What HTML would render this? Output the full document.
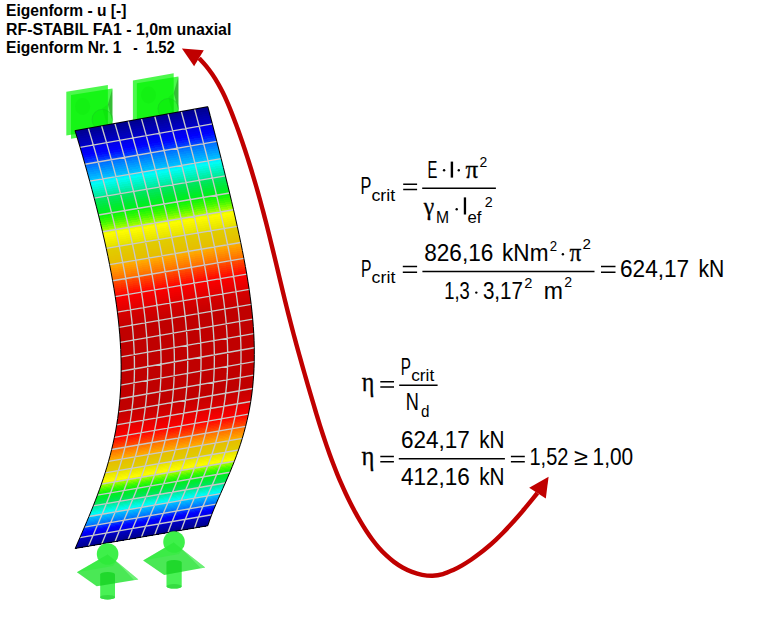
<!DOCTYPE html>
<html>
<head>
<meta charset="utf-8">
<title>Eigenform</title>
<style>
html,body{margin:0;padding:0;background:#fff;}
body{width:760px;height:630px;overflow:hidden;position:relative;font-family:"Liberation Sans",sans-serif;}
svg{position:absolute;left:0;top:0;}
.t{font-family:"Liberation Sans",sans-serif;font-weight:bold;font-size:16px;fill:#000;}
.f{font-family:"Liberation Sans",sans-serif;font-size:23.5px;fill:#000;}
.s{font-family:"Liberation Sans",sans-serif;font-size:16.3px;fill:#000;}
.g{font-family:"Liberation Serif",serif;font-size:25px;fill:#000;}
</style>
</head>
<body>
<svg width="760" height="630" viewBox="0 0 760 630">
<rect width="760" height="630" fill="#fff"/>
<!-- title -->

<!-- top supports (behind mesh) -->
<g>
 <!-- left -->
 <polygon points="71,95 112.4,88.4 112.4,132.2 71,138.8" fill="#00f500" fill-opacity="0.7"/>
 <polygon points="107.9,104.5 112.4,88.6 112.4,121" fill="#208020" fill-opacity="0.5"/>
 <polygon points="66.3,91.7 107.9,85 107.9,128.8 66.3,135.5" fill="#00f500" fill-opacity="0.7"/>
 <circle cx="102.3" cy="119.6" r="10.3" fill="#00e000" fill-opacity="0.3" stroke="#18c822" stroke-opacity="0.7" stroke-width="0.7"/>
 <path d="M102.3,108.2 L107.9,104.5 L107.9,128 Z" fill="#00c000" fill-opacity="0.18"/>
 <ellipse cx="82.6" cy="106.5" rx="7.5" ry="8.5" fill="#00d000" fill-opacity="0.13"/>
 <!-- right -->
 <polygon points="136.8,83.2 178.4,76.6 178.4,120.4 136.8,127" fill="#00f500" fill-opacity="0.7"/>
 <polygon points="173.7,93 178.4,76.8 178.4,110" fill="#208020" fill-opacity="0.5"/>
 <polygon points="132.9,80.5 173.7,73.2 173.7,117 132.9,124.3" fill="#00f500" fill-opacity="0.7"/>
 <circle cx="168.2" cy="108.8" r="10.3" fill="#00e000" fill-opacity="0.3" stroke="#18c822" stroke-opacity="0.7" stroke-width="0.7"/>
 <path d="M168.3,97.3 L173.7,93 L173.7,117 Z" fill="#00c000" fill-opacity="0.18"/>
 <ellipse cx="148.5" cy="95" rx="7.5" ry="8.5" fill="#00d000" fill-opacity="0.13"/>
</g>

<!-- mesh -->
<g shape-rendering="crispEdges">
<polygon points="75.01,130.61 207.84,106.63 208.59,109.46 75.86,133.36" fill="#000090"/>
<polygon points="75.65,132.69 208.41,108.77 209.16,111.61 76.50,135.44" fill="#000098"/>
<polygon points="76.29,134.77 208.98,110.92 209.73,113.77 77.14,137.53" fill="#0000a0"/>
<polygon points="76.93,136.86 209.54,113.08 210.29,115.93 77.77,139.62" fill="#0000a8"/>
<polygon points="77.57,138.95 210.11,115.24 210.86,118.09 78.40,141.72" fill="#0000b0"/>
<polygon points="78.20,141.05 210.68,117.40 211.42,120.26 79.03,143.81" fill="#0000b7"/>
<polygon points="78.83,143.14 211.24,119.56 211.98,122.43 79.66,145.92" fill="#0000bf"/>
<polygon points="79.46,145.24 211.80,121.73 212.54,124.60 80.28,148.02" fill="#0000c7"/>
<polygon points="80.08,147.35 212.37,123.90 213.11,126.77 80.90,150.13" fill="#0000e7"/>
<polygon points="80.71,149.45 212.93,126.07 213.67,128.94 81.52,152.23" fill="#0000ee"/>
<polygon points="81.32,151.56 213.49,128.25 214.23,131.12 82.14,154.34" fill="#0000f5"/>
<polygon points="81.94,153.67 214.05,130.42 214.78,133.29 82.75,156.46" fill="#0000fc"/>
<polygon points="82.55,155.78 214.61,132.60 215.34,135.47 83.36,158.57" fill="#000aff"/>
<polygon points="83.16,157.89 215.16,134.77 215.90,137.64 83.96,160.68" fill="#001dff"/>
<polygon points="83.77,160.01 215.72,136.95 216.45,139.82 84.57,162.80" fill="#0031ff"/>
<polygon points="84.37,162.12 216.28,139.12 217.01,142.00 85.17,164.92" fill="#0044ff"/>
<polygon points="84.98,164.24 216.83,141.30 217.56,144.17 85.76,167.04" fill="#006fff"/>
<polygon points="85.57,166.36 217.38,143.48 218.11,146.35 86.36,169.16" fill="#007bff"/>
<polygon points="86.17,168.48 217.93,145.65 218.66,148.52 86.95,171.28" fill="#0087ff"/>
<polygon points="86.76,170.60 218.48,147.83 219.21,150.70 87.54,173.40" fill="#0093ff"/>
<polygon points="87.35,172.72 219.03,150.00 219.75,152.87 88.12,175.52" fill="#009eff"/>
<polygon points="87.94,174.84 219.58,152.17 220.30,155.04 88.71,177.64" fill="#00aaff"/>
<polygon points="88.52,176.96 220.13,154.34 220.84,157.21 89.29,179.76" fill="#00b6ff"/>
<polygon points="89.10,179.08 220.67,156.51 221.39,159.37 89.86,181.88" fill="#00c2ff"/>
<polygon points="89.68,181.20 221.21,158.68 221.93,161.54 90.44,184.00" fill="#00f0ff"/>
<polygon points="90.25,183.32 221.75,160.85 222.46,163.70 91.01,186.12" fill="#00fdf4"/>
<polygon points="90.82,185.44 222.29,163.01 223.00,165.86 91.57,188.24" fill="#00fae5"/>
<polygon points="91.39,187.56 222.83,165.17 223.54,168.02 92.14,190.36" fill="#00f7d5"/>
<polygon points="91.96,189.68 223.36,167.33 224.07,170.17 92.70,192.48" fill="#00f4c6"/>
<polygon points="92.52,191.80 223.90,169.48 224.60,172.33 93.25,194.59" fill="#00f1b6"/>
<polygon points="93.08,193.92 224.43,171.64 225.13,174.48 93.81,196.71" fill="#00eea7"/>
<polygon points="93.63,196.03 224.96,173.79 225.65,176.62 94.36,198.82" fill="#00eb98"/>
<polygon points="94.18,198.15 225.48,175.94 226.18,178.76 94.90,200.94" fill="#00e663"/>
<polygon points="94.73,200.26 226.01,178.08 226.70,180.90 95.45,203.05" fill="#00e758"/>
<polygon points="95.27,202.37 226.53,180.22 227.22,183.04 95.98,205.16" fill="#00e74d"/>
<polygon points="95.81,204.49 227.05,182.36 227.73,185.17 96.52,207.27" fill="#00e842"/>
<polygon points="96.35,206.60 227.57,184.49 228.25,187.30 97.05,209.38" fill="#00e937"/>
<polygon points="96.88,208.70 228.08,186.62 228.76,189.43 97.58,211.48" fill="#00eb2d"/>
<polygon points="97.41,210.81 228.60,188.75 229.27,191.55 98.10,213.59" fill="#00ee24"/>
<polygon points="97.94,212.91 229.11,190.87 229.77,193.67 98.62,215.69" fill="#00f01a"/>
<polygon points="98.46,215.02 229.61,192.99 230.28,195.78 99.14,217.79" fill="#0cf50a"/>
<polygon points="98.97,217.12 230.12,195.10 230.78,197.89 99.65,219.89" fill="#1cf707"/>
<polygon points="99.49,219.22 230.62,197.22 231.28,200.00 100.16,221.98" fill="#2df804"/>
<polygon points="100.00,221.31 231.12,199.32 231.77,202.10 100.66,224.07" fill="#3ef901"/>
<polygon points="100.50,223.41 231.61,201.42 232.26,204.19 101.16,226.17" fill="#54fb00"/>
<polygon points="101.00,225.50 232.10,203.52 232.75,206.29 101.65,228.25" fill="#70fc00"/>
<polygon points="101.50,227.59 232.59,205.62 233.23,208.37 102.14,230.34" fill="#8bfd00"/>
<polygon points="101.99,229.67 233.08,207.71 233.72,210.46 102.63,232.42" fill="#a7ff00"/>
<polygon points="102.47,231.75 233.56,209.79 234.19,212.54 103.11,234.50" fill="#eaff00"/>
<polygon points="102.96,233.84 234.04,211.87 234.67,214.61 103.59,236.58" fill="#fcfc00"/>
<polygon points="103.44,235.91 234.52,213.95 235.14,216.68 104.06,238.65" fill="#f9f800"/>
<polygon points="103.91,237.99 234.99,216.02 235.60,218.75 104.53,240.72" fill="#f5f300"/>
<polygon points="104.38,240.06 235.46,218.09 236.07,220.81 104.99,242.79" fill="#f1ef00"/>
<polygon points="104.84,242.13 235.92,220.15 236.53,222.87 105.44,244.86" fill="#eeea00"/>
<polygon points="105.30,244.20 236.38,222.21 236.98,224.92 105.90,246.92" fill="#eae600"/>
<polygon points="105.75,246.26 236.84,224.26 237.43,226.97 106.34,248.98" fill="#e6e100"/>
<polygon points="106.20,248.32 237.29,226.31 237.88,229.01 106.78,251.03" fill="#e1cd00"/>
<polygon points="106.64,250.37 237.74,228.36 238.32,231.05 107.22,253.08" fill="#e2cb00"/>
<polygon points="107.08,252.43 238.18,230.40 238.76,233.08 107.65,255.13" fill="#e2c900"/>
<polygon points="107.51,254.48 238.62,232.43 239.20,235.11 108.07,257.17" fill="#e3c700"/>
<polygon points="107.94,256.52 239.06,234.46 239.63,237.13 108.49,259.22" fill="#e4c400"/>
<polygon points="108.36,258.56 239.49,236.49 240.05,239.15 108.91,261.25" fill="#e5c200"/>
<polygon points="108.78,260.60 239.92,238.51 240.48,241.17 109.32,263.29" fill="#e5c000"/>
<polygon points="109.19,262.64 240.34,240.52 240.89,243.18 109.72,265.32" fill="#e6be00"/>
<polygon points="109.59,264.67 240.76,242.53 241.30,245.18 110.12,267.34" fill="#f9af00"/>
<polygon points="109.99,266.69 241.17,244.54 241.71,247.18 110.51,269.36" fill="#ffa400"/>
<polygon points="110.38,268.72 241.58,246.54 242.11,249.18 110.89,271.38" fill="#ff9b00"/>
<polygon points="110.77,270.74 241.98,248.54 242.51,251.17 111.27,273.40" fill="#ff9200"/>
<polygon points="111.15,272.75 242.38,250.53 242.90,253.15 111.64,275.41" fill="#ff8900"/>
<polygon points="111.52,274.77 242.78,252.52 243.29,255.13 112.01,277.41" fill="#ff8100"/>
<polygon points="111.89,276.77 243.16,254.50 243.67,257.11 112.37,279.42" fill="#ff7800"/>
<polygon points="112.26,278.78 243.55,256.48 244.04,259.08 112.72,281.41" fill="#ff6f00"/>
<polygon points="112.61,280.78 243.92,258.45 244.41,261.05 113.07,283.41" fill="#ff4f00"/>
<polygon points="112.96,282.77 244.30,260.42 244.78,263.01 113.41,285.40" fill="#ff4500"/>
<polygon points="113.30,284.76 244.66,262.38 245.14,264.96 113.75,287.38" fill="#ff3a00"/>
<polygon points="113.64,286.75 245.03,264.34 245.49,266.92 114.07,289.36" fill="#ff3000"/>
<polygon points="113.97,288.73 245.38,266.29 245.84,268.86 114.40,291.34" fill="#ff2500"/>
<polygon points="114.29,290.71 245.73,268.24 246.18,270.81 114.71,293.31" fill="#ff1b00"/>
<polygon points="114.61,292.68 246.07,270.19 246.52,272.75 115.02,295.28" fill="#ff1000"/>
<polygon points="114.92,294.65 246.41,272.13 246.85,274.68 115.32,297.25" fill="#ff0600"/>
<polygon points="115.22,296.62 246.75,274.06 247.17,276.61 115.61,299.20" fill="#fa0000"/>
<polygon points="115.52,298.58 247.07,275.99 247.49,278.53 115.90,301.16" fill="#f60000"/>
<polygon points="115.81,300.53 247.39,277.92 247.80,280.45 116.18,303.11" fill="#f30000"/>
<polygon points="116.09,302.49 247.71,279.84 248.11,282.37 116.45,305.05" fill="#ef0000"/>
<polygon points="116.36,304.43 248.01,281.75 248.41,284.28 116.72,306.99" fill="#ec0000"/>
<polygon points="116.63,306.37 248.31,283.67 248.70,286.18 116.97,308.93" fill="#e80000"/>
<polygon points="116.89,308.31 248.61,285.57 248.99,288.08 117.22,310.86" fill="#e50000"/>
<polygon points="117.14,310.24 248.90,287.48 249.27,289.98 117.47,312.79" fill="#e10000"/>
<polygon points="117.39,312.17 249.18,289.37 249.54,291.87 117.70,314.71" fill="#d70000"/>
<polygon points="117.63,314.10 249.45,291.27 249.81,293.76 117.93,316.63" fill="#d40000"/>
<polygon points="117.86,316.01 249.72,293.16 250.07,295.64 118.15,318.54" fill="#d20000"/>
<polygon points="118.08,317.93 249.98,295.04 250.32,297.52 118.37,320.45" fill="#d00000"/>
<polygon points="118.30,319.84 250.24,296.92 250.56,299.39 118.57,322.35" fill="#cd0000"/>
<polygon points="118.51,321.74 250.49,298.80 250.80,301.26 118.77,324.25" fill="#cb0000"/>
<polygon points="118.71,323.64 250.73,300.67 251.03,303.13 118.96,326.14" fill="#c90000"/>
<polygon points="118.90,325.53 250.96,302.53 251.26,304.99 119.14,328.03" fill="#c60000"/>
<polygon points="119.09,327.42 251.19,304.39 251.47,306.84 119.32,329.91" fill="#c00000"/>
<polygon points="119.26,329.31 251.41,306.25 251.68,308.70 119.49,331.79" fill="#c00000"/>
<polygon points="119.43,331.19 251.62,308.10 251.89,310.54 119.65,333.66" fill="#c00000"/>
<polygon points="119.60,333.06 251.82,309.95 252.08,312.39 119.80,335.53" fill="#c00000"/>
<polygon points="119.75,334.93 252.02,311.80 252.27,314.22 119.94,337.39" fill="#c00000"/>
<polygon points="119.90,336.80 252.21,313.64 252.45,316.06 120.08,339.25" fill="#c00000"/>
<polygon points="120.03,338.65 252.39,315.47 252.62,317.89 120.20,341.10" fill="#c00000"/>
<polygon points="120.16,340.51 252.56,317.30 252.78,319.71 120.32,342.95" fill="#c00000"/>
<polygon points="120.29,342.36 252.73,319.13 252.94,321.53 120.44,344.79" fill="#c00000"/>
<polygon points="120.40,344.20 252.89,320.95 253.09,323.35 120.54,346.63" fill="#c00000"/>
<polygon points="120.51,346.04 253.04,322.77 253.23,325.16 120.64,348.46" fill="#c00000"/>
<polygon points="120.61,347.87 253.18,324.58 253.36,326.97 120.72,350.29" fill="#c00000"/>
<polygon points="120.70,349.70 253.32,326.39 253.48,328.77 120.80,352.11" fill="#c00000"/>
<polygon points="120.78,351.53 253.45,328.19 253.60,330.57 120.87,353.92" fill="#c00000"/>
<polygon points="120.85,353.34 253.56,329.99 253.71,332.36 120.94,355.74" fill="#c00000"/>
<polygon points="120.92,355.16 253.67,331.79 253.81,334.15 120.99,357.54" fill="#c00000"/>
<polygon points="120.98,356.96 253.78,333.58 253.90,335.94 121.04,359.34" fill="#c00000"/>
<polygon points="121.02,358.77 253.87,335.37 253.98,337.72 121.08,361.14" fill="#c00000"/>
<polygon points="121.07,360.56 253.96,337.15 254.06,339.49 121.11,362.93" fill="#c00000"/>
<polygon points="121.10,362.35 254.04,338.92 254.13,341.26 121.13,364.71" fill="#c00000"/>
<polygon points="121.12,364.14 254.11,340.70 254.18,343.03 121.14,366.49" fill="#c00000"/>
<polygon points="121.14,365.92 254.17,342.47 254.23,344.79 121.15,368.26" fill="#c00000"/>
<polygon points="121.15,367.70 254.22,344.23 254.27,346.55 121.15,370.03" fill="#c00000"/>
<polygon points="121.15,369.47 254.26,345.99 254.31,348.31 121.14,371.79" fill="#c00000"/>
<polygon points="121.14,371.23 254.30,347.75 254.33,350.06 121.12,373.55" fill="#c00000"/>
<polygon points="121.13,372.99 254.32,349.50 254.35,351.80 121.09,375.30" fill="#c00000"/>
<polygon points="121.10,374.74 254.34,351.24 254.35,353.54 121.06,377.05" fill="#c00000"/>
<polygon points="121.07,376.49 254.35,352.99 254.35,355.28 121.01,378.79" fill="#c00000"/>
<polygon points="121.03,378.23 254.35,354.72 254.34,357.01 120.96,380.53" fill="#c00000"/>
<polygon points="120.98,379.97 254.35,356.46 254.32,358.74 120.90,382.26" fill="#c00000"/>
<polygon points="120.92,381.70 254.33,358.18 254.29,360.46 120.84,383.98" fill="#c00000"/>
<polygon points="120.86,383.43 254.30,359.91 254.26,362.18 120.76,385.70" fill="#c00000"/>
<polygon points="120.79,385.15 254.27,361.63 254.21,363.89 120.68,387.42" fill="#c00000"/>
<polygon points="120.70,386.87 254.23,363.34 254.16,365.60 120.58,389.12" fill="#c00000"/>
<polygon points="120.62,388.58 254.17,365.05 254.09,367.30 120.49,390.83" fill="#c00000"/>
<polygon points="120.52,390.28 254.11,366.76 254.02,369.00 120.38,392.52" fill="#c00000"/>
<polygon points="120.41,391.98 254.04,368.46 253.94,370.69 120.26,394.22" fill="#c00000"/>
<polygon points="120.30,393.67 253.96,370.15 253.85,372.38 120.14,395.90" fill="#c00000"/>
<polygon points="120.18,395.36 253.88,371.84 253.75,374.07 120.01,397.58" fill="#c00000"/>
<polygon points="120.05,397.05 253.78,373.53 253.64,375.75 119.87,399.26" fill="#c00000"/>
<polygon points="119.91,398.72 253.67,375.21 253.52,377.42 119.72,400.93" fill="#c00000"/>
<polygon points="119.77,400.39 253.56,376.89 253.40,379.10 119.56,402.59" fill="#c00000"/>
<polygon points="119.61,402.06 253.44,378.56 253.26,380.76 119.40,404.25" fill="#c00000"/>
<polygon points="119.45,403.72 253.30,380.23 253.12,382.42 119.23,405.90" fill="#c00000"/>
<polygon points="119.29,405.37 253.16,381.89 252.96,384.08 119.05,407.55" fill="#c00000"/>
<polygon points="119.11,407.02 253.01,383.55 252.80,385.73 118.87,409.19" fill="#c00000"/>
<polygon points="118.93,408.67 252.85,385.20 252.63,387.38 118.67,410.83" fill="#c00000"/>
<polygon points="118.74,410.31 252.68,386.85 252.45,389.02 118.47,412.46" fill="#c00000"/>
<polygon points="118.54,411.94 252.51,388.49 252.26,390.65 118.26,414.08" fill="#c60000"/>
<polygon points="118.33,413.57 252.32,390.13 252.06,392.29 118.05,415.70" fill="#c90000"/>
<polygon points="118.12,415.19 252.13,391.77 251.85,393.91 117.82,417.32" fill="#cb0000"/>
<polygon points="117.90,416.80 251.92,393.39 251.64,395.53 117.59,418.93" fill="#cd0000"/>
<polygon points="117.67,418.41 251.71,395.02 251.41,397.15 117.36,420.53" fill="#d00000"/>
<polygon points="117.43,420.02 251.49,396.63 251.18,398.76 117.11,422.13" fill="#d20000"/>
<polygon points="117.19,421.62 251.26,398.25 250.94,400.37 116.86,423.72" fill="#d40000"/>
<polygon points="116.94,423.21 251.02,399.86 250.69,401.97 116.60,425.31" fill="#d70000"/>
<polygon points="116.68,424.80 250.77,401.46 250.43,403.57 116.33,426.89" fill="#e10000"/>
<polygon points="116.42,426.38 250.51,403.06 250.16,405.16 116.06,428.46" fill="#e50000"/>
<polygon points="116.15,427.96 250.25,404.65 249.88,406.74 115.78,430.03" fill="#e80000"/>
<polygon points="115.87,429.53 249.97,406.24 249.60,408.32 115.49,431.60" fill="#ec0000"/>
<polygon points="115.58,431.10 249.69,407.82 249.30,409.90 115.20,433.16" fill="#ef0000"/>
<polygon points="115.29,432.66 249.40,409.40 249.00,411.47 114.89,434.71" fill="#f30000"/>
<polygon points="114.99,434.22 249.10,410.97 248.69,413.03 114.59,436.26" fill="#f60000"/>
<polygon points="114.69,435.77 248.79,412.53 248.37,414.59 114.27,437.80" fill="#fa0000"/>
<polygon points="114.37,437.31 248.47,414.09 248.04,416.15 113.95,439.34" fill="#ff0600"/>
<polygon points="114.06,438.85 248.14,415.65 247.70,417.70 113.63,440.87" fill="#ff1000"/>
<polygon points="113.73,440.38 247.81,417.20 247.36,419.24 113.29,442.40" fill="#ff1b00"/>
<polygon points="113.40,441.91 247.47,418.75 247.00,420.78 112.95,443.92" fill="#ff2500"/>
<polygon points="113.06,443.44 247.12,420.29 246.64,422.31 112.61,445.44" fill="#ff3000"/>
<polygon points="112.72,444.95 246.76,421.82 246.28,423.84 112.25,446.95" fill="#ff3a00"/>
<polygon points="112.37,446.47 246.39,423.35 245.90,425.36 111.90,448.46" fill="#ff4500"/>
<polygon points="112.01,447.97 246.02,424.87 245.51,426.88 111.53,449.96" fill="#ff4f00"/>
<polygon points="111.65,449.48 245.64,426.39 245.12,428.39 111.16,451.45" fill="#ff6f00"/>
<polygon points="111.28,450.97 245.25,427.91 244.72,429.89 110.79,452.94" fill="#ff7800"/>
<polygon points="110.91,452.47 244.85,429.41 244.31,431.39 110.41,454.43" fill="#ff8100"/>
<polygon points="110.53,453.95 244.44,430.92 243.90,432.89 110.02,455.91" fill="#ff8900"/>
<polygon points="110.14,455.44 244.03,432.41 243.48,434.38 109.63,457.38" fill="#ff9200"/>
<polygon points="109.75,456.91 243.61,433.90 243.05,435.86 109.23,458.85" fill="#ff9b00"/>
<polygon points="109.36,458.38 243.18,435.39 242.61,437.34 108.82,460.32" fill="#ffa400"/>
<polygon points="108.95,459.85 242.75,436.87 242.16,438.82 108.42,461.78" fill="#f9af00"/>
<polygon points="108.55,461.31 242.31,438.35 241.71,440.29 108.00,463.23" fill="#e6be00"/>
<polygon points="108.13,462.77 241.86,439.82 241.26,441.75 107.58,464.69" fill="#e5c000"/>
<polygon points="107.72,464.22 241.40,441.28 240.79,443.21 107.16,466.13" fill="#e5c200"/>
<polygon points="107.29,465.67 240.94,442.74 240.32,444.66 106.73,467.57" fill="#e4c400"/>
<polygon points="106.87,467.11 240.47,444.19 239.84,446.11 106.30,469.01" fill="#e3c700"/>
<polygon points="106.43,468.55 240.00,445.64 239.36,447.55 105.86,470.44" fill="#e2c900"/>
<polygon points="106.00,469.98 239.51,447.09 238.87,448.98 105.41,471.87" fill="#e2cb00"/>
<polygon points="105.56,471.41 239.03,448.53 238.37,450.42 104.97,473.29" fill="#e1cd00"/>
<polygon points="105.11,472.84 238.53,449.96 237.87,451.84 104.51,474.71" fill="#e6e100"/>
<polygon points="104.66,474.26 238.03,451.39 237.36,453.27 104.06,476.12" fill="#eae600"/>
<polygon points="104.20,475.67 237.53,452.81 236.85,454.68 103.60,477.53" fill="#eeea00"/>
<polygon points="103.74,477.08 237.01,454.23 236.33,456.09 103.13,478.94" fill="#f1ef00"/>
<polygon points="103.28,478.49 236.50,455.64 235.81,457.50 102.66,480.34" fill="#f5f300"/>
<polygon points="102.81,479.89 235.98,457.05 235.28,458.90 102.19,481.74" fill="#f9f800"/>
<polygon points="102.34,481.29 235.45,458.45 234.74,460.30 101.71,483.13" fill="#fcfc00"/>
<polygon points="101.86,482.68 234.92,459.85 234.21,461.69 101.23,484.52" fill="#eaff00"/>
<polygon points="101.38,484.08 234.38,461.25 233.66,463.08 100.74,485.90" fill="#a7ff00"/>
<polygon points="100.90,485.46 233.84,462.64 233.12,464.46 100.25,487.29" fill="#8bfd00"/>
<polygon points="100.41,486.84 233.29,464.02 232.56,465.84 99.76,488.66" fill="#70fc00"/>
<polygon points="99.92,488.22 232.74,465.40 232.01,467.22 99.27,490.04" fill="#54fb00"/>
<polygon points="99.42,489.60 232.19,466.78 231.45,468.59 98.77,491.41" fill="#3ef901"/>
<polygon points="98.93,490.97 231.63,468.15 230.89,469.95 98.26,492.78" fill="#2df804"/>
<polygon points="98.42,492.34 231.07,469.52 230.32,471.32 97.76,494.14" fill="#1cf707"/>
<polygon points="97.92,493.70 230.50,470.88 229.75,472.68 97.25,495.50" fill="#0cf50a"/>
<polygon points="97.41,495.06 229.94,472.24 229.18,474.03 96.74,496.86" fill="#00f01a"/>
<polygon points="96.90,496.42 229.36,473.60 228.61,475.38 96.22,498.21" fill="#00ee24"/>
<polygon points="96.39,497.78 228.79,474.95 228.03,476.73 95.70,499.56" fill="#00eb2d"/>
<polygon points="95.87,499.13 228.22,476.30 227.45,478.07 95.18,500.91" fill="#00e937"/>
<polygon points="95.35,500.48 227.64,477.64 226.87,479.41 94.66,502.26" fill="#00e842"/>
<polygon points="94.83,501.83 227.06,478.99 226.29,480.75 94.13,503.60" fill="#00e74d"/>
<polygon points="94.30,503.17 226.48,480.32 225.70,482.09 93.60,504.94" fill="#00e758"/>
<polygon points="93.77,504.51 225.89,481.66 225.12,483.42 93.07,506.28" fill="#00e663"/>
<polygon points="93.24,505.85 225.31,482.99 224.53,484.75 92.53,507.62" fill="#00eb98"/>
<polygon points="92.71,507.19 224.72,484.33 223.95,486.08 92.00,508.95" fill="#00eea7"/>
<polygon points="92.17,508.53 224.14,485.65 223.36,487.40 91.46,510.29" fill="#00f1b6"/>
<polygon points="91.63,509.86 223.55,486.98 222.77,488.73 90.92,511.62" fill="#00f4c6"/>
<polygon points="91.09,511.19 222.96,488.30 222.19,490.05 90.37,512.95" fill="#00f7d5"/>
<polygon points="90.55,512.52 222.37,489.63 221.60,491.37 89.83,514.27" fill="#00fae5"/>
<polygon points="90.00,513.85 221.79,490.95 221.02,492.69 89.28,515.60" fill="#00fdf4"/>
<polygon points="89.45,515.18 221.20,492.27 220.43,494.01 88.73,516.92" fill="#00f0ff"/>
<polygon points="88.91,516.50 220.62,493.59 219.85,495.33 88.18,518.25" fill="#00c2ff"/>
<polygon points="88.35,517.83 220.04,494.91 219.27,496.64 87.62,519.57" fill="#00b6ff"/>
<polygon points="87.80,519.15 219.45,496.22 218.69,497.96 87.07,520.90" fill="#00aaff"/>
<polygon points="87.24,520.47 218.87,497.54 218.11,499.28 86.51,522.22" fill="#009eff"/>
<polygon points="86.69,521.79 218.30,498.86 217.54,500.60 85.95,523.54" fill="#0093ff"/>
<polygon points="86.13,523.12 217.72,500.17 216.97,501.91 85.39,524.86" fill="#0087ff"/>
<polygon points="85.57,524.44 217.15,501.49 216.40,503.23 84.82,526.18" fill="#007bff"/>
<polygon points="85.00,525.76 216.58,502.81 215.84,504.55 84.26,527.51" fill="#006fff"/>
<polygon points="84.44,527.08 216.02,504.13 215.28,505.88 83.69,528.83" fill="#0044ff"/>
<polygon points="83.87,528.41 215.46,505.45 214.72,507.20 83.12,530.15" fill="#0031ff"/>
<polygon points="83.31,529.73 214.90,506.78 214.18,508.53 82.56,531.48" fill="#001dff"/>
<polygon points="82.74,531.05 214.35,508.10 213.63,509.86 81.98,532.80" fill="#000aff"/>
<polygon points="82.17,532.38 213.80,509.43 213.09,511.19 81.41,534.13" fill="#0000fc"/>
<polygon points="81.59,533.70 213.26,510.76 212.56,512.53 80.84,535.46" fill="#0000f5"/>
<polygon points="81.02,535.03 212.73,512.10 212.03,513.87 80.26,536.79" fill="#0000ee"/>
<polygon points="80.44,536.36 212.20,513.44 211.51,515.21 79.68,538.12" fill="#0000e7"/>
<polygon points="79.87,537.69 211.68,514.78 211.00,516.56 79.10,539.45" fill="#0000c7"/>
<polygon points="79.29,539.03 211.16,516.13 210.50,517.92 78.52,540.79" fill="#0000bf"/>
<polygon points="78.71,540.36 210.66,517.48 210.00,519.28 77.94,542.13" fill="#0000b7"/>
<polygon points="78.13,541.70 210.16,518.84 209.51,520.64 77.36,543.47" fill="#0000b0"/>
<polygon points="77.54,543.04 209.67,520.20 209.03,522.02 76.77,544.82" fill="#0000a8"/>
<polygon points="76.96,544.39 209.18,521.58 208.56,523.40 76.19,546.17" fill="#0000a0"/>
<polygon points="76.37,545.73 208.71,522.95 208.10,524.78 75.60,547.52" fill="#000098"/>
<polygon points="75.79,547.09 208.25,524.34 207.65,526.18 75.01,548.88" fill="#000090"/>
</g>
<path d="M80.08,147.35 L212.37,123.90 M84.98,164.24 L216.83,141.30 M89.68,181.20 L221.21,158.68 M94.18,198.15 L225.48,175.94 M98.46,215.02 L229.61,192.99 M102.47,231.75 L233.56,209.79 M106.20,248.32 L237.29,226.31 M109.59,264.67 L240.76,242.53 M112.61,280.78 L243.92,258.45 M115.22,296.62 L246.75,274.06 M117.39,312.17 L249.18,289.37 M119.09,327.42 L251.19,304.39 M120.29,342.36 L252.73,319.13 M120.98,356.96 L253.78,333.58 M121.14,371.23 L254.30,347.75 M120.79,385.15 L254.27,361.63 M119.91,398.72 L253.67,375.21 M118.54,411.94 L252.51,388.49 M116.68,424.80 L250.77,401.46 M114.37,437.31 L248.47,414.09 M111.65,449.48 L245.64,426.39 M108.55,461.31 L242.31,438.35 M105.11,472.84 L238.53,449.96 M101.38,484.08 L234.38,461.25 M97.41,495.06 L229.94,472.24 M93.24,505.85 L225.31,482.99 M88.91,516.50 L220.62,493.59 M84.44,527.08 L216.02,504.13 M79.87,537.69 L211.68,514.78 M88.29,128.21 L90.82,136.58 L93.31,145.00 L95.76,153.46 L98.16,161.95 L100.52,170.45 L102.83,178.95 L105.10,187.44 L107.31,195.93 L109.47,204.38 L111.57,212.81 L113.61,221.21 L115.58,229.56 L117.48,237.86 L119.31,246.12 L121.05,254.31 L122.71,262.45 L124.27,270.53 L125.74,278.54 L127.11,286.49 L128.37,294.36 L129.53,302.16 L130.57,309.89 L131.49,317.55 L132.30,325.12 L132.98,332.62 L133.53,340.04 L133.96,347.37 L134.26,354.62 L134.42,361.80 L134.46,368.88 L134.36,375.88 L134.13,382.80 L133.78,389.63 L133.29,396.37 L132.67,403.03 L131.93,409.59 L131.07,416.07 L130.09,422.47 L128.99,428.77 L127.78,434.99 L126.47,441.12 L125.05,447.17 L123.53,453.13 L121.92,459.02 L120.23,464.82 L118.45,470.55 L116.60,476.20 L114.68,481.79 L112.70,487.32 L110.66,492.78 L108.58,498.20 L106.45,503.57 L104.28,508.90 L102.08,514.21 L99.85,519.50 L97.60,524.79 L95.33,530.08 L93.05,535.40 L90.76,540.76 L88.46,546.17 M101.57,125.81 L104.08,134.21 L106.54,142.66 L108.96,151.14 L111.35,159.65 L113.69,168.17 L115.99,176.70 L118.24,185.21 L120.44,193.70 L122.59,202.17 L124.69,210.61 L126.72,219.01 L128.69,227.36 L130.59,235.67 L132.42,243.92 L134.16,252.11 L135.82,260.24 L137.40,268.31 L138.87,276.31 L140.25,284.24 L141.53,292.11 L142.69,299.90 L143.75,307.61 L144.69,315.25 L145.51,322.82 L146.20,330.30 L146.78,337.71 L147.22,345.04 L147.54,352.29 L147.72,359.45 L147.77,366.53 L147.69,373.53 L147.48,380.45 L147.14,387.28 L146.66,394.02 L146.06,400.68 L145.33,407.25 L144.48,413.73 L143.50,420.13 L142.40,426.44 L141.19,432.67 L139.87,438.81 L138.45,444.86 L136.92,450.83 L135.30,456.72 L133.59,462.53 L131.79,468.26 L129.92,473.92 L127.98,479.51 L125.98,485.03 L123.92,490.50 L121.81,495.91 L119.65,501.28 L117.46,506.61 L115.25,511.92 L113.01,517.21 L110.76,522.49 L108.49,527.79 L106.23,533.11 L103.97,538.47 L101.72,543.90 M114.86,123.42 L117.33,131.84 L119.77,140.31 L122.17,148.82 L124.53,157.36 L126.86,165.90 L129.14,174.44 L131.38,182.97 L133.57,191.48 L135.71,199.96 L137.80,208.41 L139.83,216.81 L141.80,225.17 L143.70,233.47 L145.53,241.72 L147.28,249.90 L148.94,258.03 L150.52,266.09 L152.01,274.08 L153.39,282.00 L154.68,289.85 L155.86,297.63 L156.93,305.33 L157.88,312.96 L158.72,320.51 L159.43,327.99 L160.02,335.39 L160.48,342.71 L160.82,349.95 L161.02,357.11 L161.09,364.19 L161.03,371.18 L160.83,378.09 L160.50,384.92 L160.04,391.67 L159.45,398.33 L158.73,404.90 L157.88,411.39 L156.91,417.80 L155.81,424.11 L154.60,430.35 L153.28,436.49 L151.85,442.55 L150.31,448.53 L148.67,454.42 L146.95,460.24 L145.14,465.97 L143.24,471.64 L141.28,477.23 L139.25,482.75 L137.17,488.22 L135.03,493.63 L132.86,499.00 L130.65,504.32 L128.42,509.63 L126.17,514.91 L123.91,520.20 L121.66,525.49 L119.41,530.82 L117.18,536.19 L114.98,541.63 M128.14,121.02 L130.59,129.47 L133.00,137.97 L135.37,146.51 L137.72,155.06 L140.02,163.63 L142.29,172.19 L144.52,180.74 L146.70,189.26 L148.84,197.75 L150.92,206.21 L152.94,214.61 L154.91,222.97 L156.81,231.27 L158.64,239.52 L160.39,247.70 L162.06,255.81 L163.64,263.86 L165.14,271.84 L166.53,279.76 L167.83,287.59 L169.02,295.36 L170.11,303.05 L171.08,310.67 L171.93,318.21 L172.66,325.68 L173.26,333.07 L173.74,340.38 L174.10,347.61 L174.32,354.76 L174.40,361.84 L174.36,368.83 L174.18,375.74 L173.86,382.57 L173.42,389.32 L172.84,395.98 L172.13,402.56 L171.28,409.05 L170.32,415.46 L169.22,421.79 L168.01,428.02 L166.68,434.18 L165.24,440.24 L163.70,446.23 L162.05,452.13 L160.31,457.95 L158.48,463.69 L156.57,469.35 L154.58,474.94 L152.53,480.47 L150.42,485.94 L148.26,491.35 L146.07,496.71 L143.84,502.04 L141.59,507.34 L139.33,512.62 L137.07,517.90 L134.82,523.20 L132.59,528.53 L130.39,533.91 L128.24,539.36 M141.42,118.62 L143.84,127.10 L146.22,135.62 L148.58,144.19 L150.90,152.77 L153.19,161.36 L155.45,169.94 L157.66,178.50 L159.83,187.04 L161.96,195.54 L164.03,204.00 L166.06,212.42 L168.02,220.77 L169.92,229.07 L171.74,237.31 L173.50,245.49 L175.17,253.60 L176.77,261.64 L178.27,269.61 L179.68,277.51 L180.98,285.34 L182.19,293.09 L183.28,300.77 L184.27,308.38 L185.14,315.91 L185.88,323.36 L186.51,330.74 L187.01,338.05 L187.38,345.27 L187.61,352.42 L187.72,359.49 L187.69,366.48 L187.53,373.39 L187.23,380.22 L186.79,386.97 L186.22,393.63 L185.52,400.22 L184.69,406.71 L183.73,413.13 L182.64,419.46 L181.42,425.70 L180.09,431.86 L178.64,437.93 L177.09,443.92 L175.43,449.83 L173.67,455.65 L171.82,461.40 L169.89,467.07 L167.88,472.66 L165.81,478.19 L163.67,483.65 L161.49,489.06 L159.27,494.42 L157.03,499.75 L154.76,505.04 L152.49,510.33 L150.23,515.61 L147.99,520.90 L145.77,526.24 L143.61,531.62 L141.50,537.09 M154.71,116.22 L157.09,124.72 L159.45,133.28 L161.78,141.87 L164.09,150.48 L166.36,159.09 L168.60,167.69 L170.80,176.27 L172.96,184.82 L175.08,193.33 L177.15,201.80 L179.17,210.22 L181.13,218.58 L183.02,226.88 L184.85,235.11 L186.61,243.28 L188.29,251.39 L189.89,259.42 L191.40,267.38 L192.82,275.27 L194.14,283.08 L195.35,290.83 L196.46,298.49 L197.46,306.09 L198.35,313.61 L199.11,321.05 L199.75,328.42 L200.27,335.71 L200.66,342.93 L200.91,350.07 L201.04,357.14 L201.02,364.13 L200.88,371.04 L200.59,377.87 L200.17,384.62 L199.61,391.28 L198.92,397.87 L198.09,404.38 L197.13,410.80 L196.05,417.13 L194.83,423.38 L193.50,429.55 L192.04,435.63 L190.48,441.62 L188.80,447.53 L187.03,453.36 L185.16,459.11 L183.21,464.78 L181.18,470.38 L179.08,475.91 L176.93,481.37 L174.72,486.78 L172.48,492.14 L170.21,497.46 L167.93,502.75 L165.65,508.03 L163.39,513.31 L161.15,518.61 L158.95,523.95 L156.82,529.34 L154.76,534.82 M167.99,113.82 L170.35,122.35 L172.68,130.93 L174.99,139.55 L177.27,148.18 L179.53,156.82 L181.75,165.44 L183.94,174.03 L186.09,182.60 L188.20,191.12 L190.27,199.60 L192.28,208.02 L194.24,216.38 L196.13,224.68 L197.96,232.91 L199.72,241.08 L201.41,249.17 L203.01,257.20 L204.53,265.15 L205.96,273.02 L207.29,280.83 L208.52,288.56 L209.64,296.21 L210.66,303.80 L211.56,311.30 L212.34,318.74 L213.00,326.10 L213.53,333.38 L213.94,340.59 L214.21,347.73 L214.35,354.79 L214.36,361.78 L214.22,368.68 L213.95,375.51 L213.55,382.27 L213.00,388.94 L212.32,395.53 L211.50,402.04 L210.54,408.46 L209.46,414.80 L208.24,421.06 L206.90,427.23 L205.44,433.32 L203.86,439.32 L202.18,445.24 L200.39,451.07 L198.50,456.82 L196.53,462.50 L194.48,468.10 L192.36,473.62 L190.18,479.09 L187.95,484.49 L185.69,489.85 L183.40,495.17 L181.10,500.46 L178.81,505.74 L176.55,511.02 L174.31,516.32 L172.14,521.65 L170.03,527.06 L168.02,532.55 M181.28,111.42 L183.60,119.98 L185.91,128.59 L188.20,137.23 L190.46,145.89 L192.70,154.54 L194.91,163.18 L197.08,171.80 L199.22,180.38 L201.32,188.91 L203.38,197.40 L205.39,205.82 L207.34,214.18 L209.24,222.48 L211.07,230.71 L212.84,238.87 L214.53,246.96 L216.14,254.97 L217.66,262.91 L219.10,270.78 L220.44,278.57 L221.68,286.29 L222.82,293.93 L223.85,301.50 L224.77,309.00 L225.57,316.42 L226.24,323.77 L226.79,331.05 L227.22,338.26 L227.51,345.39 L227.67,352.44 L227.69,359.42 L227.57,366.33 L227.32,373.16 L226.92,379.91 L226.39,386.59 L225.71,393.18 L224.90,399.70 L223.95,406.13 L222.87,412.47 L221.65,418.74 L220.31,424.92 L218.84,431.01 L217.25,437.02 L215.55,442.94 L213.75,448.78 L211.85,454.53 L209.85,460.21 L207.78,465.81 L205.63,471.34 L203.43,476.81 L201.18,482.21 L198.89,487.57 L196.59,492.88 L194.28,498.17 L191.98,503.44 L189.70,508.72 L187.48,514.02 L185.32,519.36 L183.24,524.77 L181.28,530.27 M194.56,109.03 L196.86,117.61 L199.14,126.25 L201.40,134.91 L203.64,143.59 L205.86,152.27 L208.06,160.93 L210.22,169.56 L212.35,178.16 L214.45,186.70 L216.50,195.19 L218.50,203.62 L220.45,211.99 L222.35,220.29 L224.18,228.51 L225.95,236.67 L227.64,244.75 L229.26,252.75 L230.79,260.68 L232.24,268.54 L233.59,276.32 L234.85,284.02 L236.00,291.65 L237.05,299.21 L237.98,306.70 L238.79,314.11 L239.49,321.45 L240.06,328.72 L240.50,335.92 L240.81,343.04 L240.98,350.09 L241.02,357.07 L240.92,363.98 L240.68,370.81 L240.30,377.56 L239.78,384.24 L239.11,390.84 L238.30,397.36 L237.36,403.79 L236.28,410.15 L235.06,416.42 L233.71,422.60 L232.24,428.70 L230.64,434.71 L228.93,440.64 L227.11,446.49 L225.19,452.25 L223.18,457.93 L221.08,463.53 L218.91,469.06 L216.68,474.52 L214.41,479.93 L212.10,485.28 L209.77,490.59 L207.45,495.88 L205.14,501.15 L202.86,506.43 L200.64,511.73 L198.50,517.07 L196.45,522.49 L194.54,528.00" fill="none" stroke="#c8c8c8" stroke-width="1.35"/>
<path d="M75.01,130.61 L77.57,138.95 L80.08,147.35 L82.55,155.78 L84.98,164.24 L87.35,172.72 L89.68,181.20 L91.96,189.68 L94.18,198.15 L96.35,206.60 L98.46,215.02 L100.50,223.41 L102.47,231.75 L104.38,240.06 L106.20,248.32 L107.94,256.52 L109.59,264.67 L111.15,272.75 L112.61,280.78 L113.97,288.73 L115.22,296.62 L116.36,304.43 L117.39,312.17 L118.30,319.84 L119.09,327.42 L119.75,334.93 L120.29,342.36 L120.70,349.70 L120.98,356.96 L121.12,364.14 L121.14,371.23 L121.03,378.23 L120.79,385.15 L120.41,391.98 L119.91,398.72 L119.29,405.37 L118.54,411.94 L117.67,418.41 L116.68,424.80 L115.58,431.10 L114.37,437.31 L113.06,443.44 L111.65,449.48 L110.14,455.44 L108.55,461.31 L106.87,467.11 L105.11,472.84 L103.28,478.49 L101.38,484.08 L99.42,489.60 L97.41,495.06 L95.35,500.48 L93.24,505.85 L91.09,511.19 L88.91,516.50 L86.69,521.79 L84.44,527.08 L82.17,532.38 L79.87,537.69 L77.54,543.04 L75.20,548.44 L207.80,525.73 L209.67,520.20 L211.68,514.78 L213.80,509.43 L216.02,504.13 L218.30,498.86 L220.62,493.59 L222.96,488.30 L225.31,482.99 L227.64,477.64 L229.94,472.24 L232.19,466.78 L234.38,461.25 L236.50,455.64 L238.53,449.96 L240.47,444.19 L242.31,438.35 L244.03,432.41 L245.64,426.39 L247.12,420.29 L248.47,414.09 L249.69,407.82 L250.77,401.46 L251.71,395.02 L252.51,388.49 L253.16,381.89 L253.67,375.21 L254.04,368.46 L254.27,361.63 L254.35,354.72 L254.30,347.75 L254.11,340.70 L253.78,333.58 L253.32,326.39 L252.73,319.13 L252.02,311.80 L251.19,304.39 L250.24,296.92 L249.18,289.37 L248.01,281.75 L246.75,274.06 L245.38,266.29 L243.92,258.45 L242.38,250.53 L240.76,242.53 L239.06,234.46 L237.29,226.31 L235.46,218.09 L233.56,209.79 L231.61,201.42 L229.61,192.99 L227.57,184.49 L225.48,175.94 L223.36,167.33 L221.21,158.68 L219.03,150.00 L216.83,141.30 L214.61,132.60 L212.37,123.90 L210.11,115.24 L207.84,106.63 Z" fill="none" stroke="#000" stroke-width="1"/>


<!-- bottom supports -->
<g>
 <!-- left -->
 <circle cx="107.6" cy="554" r="10.8" fill="#3ef04a"/>
 <polygon points="76.9,572.2 107.6,554.4 119,563.5 138.3,579.4 96.7,586.3" fill="#36e642" fill-opacity="0.9"/>
 <polygon points="76.9,572.2 107.6,554.4 116.5,561.5 113,566" fill="#22f02e" fill-opacity="0.35"/>
 <polygon points="116.5,561.5 119,563.5 138.3,579.4 134,580" fill="#8af592" fill-opacity="0.55"/>
 <path d="M100.2,574.3 L100.2,597.2 A7.4,2.3 0 0 0 115,597.2 L115,574.3 A7.4,2.3 0 0 0 100.2,574.3 Z" fill="#3af046" fill-opacity="0.92"/>
 <path d="M100.2,574.3 A7.4,2.3 0 0 1 115,574.3 L115,583.3 L100.2,585.8 Z" fill="#0fc81b" fill-opacity="0.6"/>
 <ellipse cx="107.6" cy="597.2" rx="7.4" ry="2.3" fill="#36dc42"/>
 <!-- right -->
 <circle cx="174.05" cy="542" r="10.8" fill="#3ef04a"/>
 <polygon points="143.1,560.5 173.7,542.6 185.5,552 205.2,567.6 164.2,575" fill="#36e642" fill-opacity="0.9"/>
 <polygon points="143.1,560.5 173.7,542.6 182.6,549.7 179,554" fill="#22f02e" fill-opacity="0.35"/>
 <polygon points="182.6,549.7 185.5,552 205.2,567.6 201,568.3" fill="#8af592" fill-opacity="0.55"/>
 <path d="M166.5,562.3 L166.5,586.3 A7.6,2.3 0 0 0 181.7,586.3 L181.7,562.3 A7.6,2.3 0 0 0 166.5,562.3 Z" fill="#3af046" fill-opacity="0.92"/>
 <path d="M166.5,562.3 A7.6,2.3 0 0 1 181.7,562.3 L181.7,571.8 L166.5,574.6 Z" fill="#0fc81b" fill-opacity="0.6"/>
 <ellipse cx="174.1" cy="586.3" rx="7.6" ry="2.3" fill="#36dc42"/>
</g>

<!-- red arrow -->
<path d="M199.12,58.21 C200.30,59.52 203.99,63.37 206.21,66.08 C208.43,68.80 210.49,71.62 212.45,74.50 C214.40,77.37 216.22,80.34 217.95,83.36 C219.69,86.38 221.30,89.47 222.85,92.60 C224.40,95.72 225.84,98.91 227.25,102.12 C228.65,105.33 229.98,108.58 231.27,111.84 C232.57,115.11 233.81,118.40 235.04,121.69 C236.27,124.98 237.47,128.28 238.65,131.59 C239.83,134.89 240.99,138.20 242.13,141.52 C243.26,144.84 244.38,148.16 245.47,151.49 C246.57,154.82 247.64,158.15 248.70,161.49 C249.75,164.83 250.79,168.17 251.81,171.52 C252.83,174.87 253.83,178.23 254.81,181.58 C255.80,184.94 256.76,188.30 257.72,191.67 C258.67,195.04 259.60,198.41 260.53,201.78 C261.45,205.16 262.36,208.53 263.26,211.91 C264.15,215.30 265.03,218.68 265.91,222.07 C266.78,225.45 267.64,228.84 268.49,232.24 C269.34,235.63 270.18,239.02 271.01,242.42 C271.84,245.82 272.67,249.22 273.49,252.62 C274.31,256.02 275.13,259.42 275.94,262.82 C276.76,266.22 277.57,269.62 278.38,273.03 C279.20,276.43 280.01,279.83 280.83,283.24 C281.65,286.64 282.47,290.04 283.29,293.44 C284.12,296.85 284.95,300.25 285.79,303.65 C286.63,307.05 287.48,310.45 288.34,313.84 C289.20,317.24 290.07,320.63 290.95,324.03 C291.84,327.42 292.73,330.81 293.63,334.20 C294.54,337.59 295.45,340.97 296.37,344.36 C297.29,347.74 298.23,351.12 299.16,354.50 C300.10,357.88 301.05,361.26 302.00,364.63 C302.96,368.00 303.92,371.38 304.89,374.74 C305.85,378.11 306.82,381.48 307.80,384.84 C308.78,388.21 309.76,391.57 310.74,394.92 C311.73,398.28 312.72,401.64 313.72,404.99 C314.72,408.34 315.72,411.68 316.74,415.02 C317.76,418.36 318.78,421.70 319.83,425.03 C320.88,428.36 321.94,431.68 323.03,434.99 C324.12,438.31 325.22,441.61 326.35,444.91 C327.48,448.21 328.64,451.50 329.82,454.77 C331.01,458.05 332.23,461.32 333.48,464.58 C334.73,467.83 336.01,471.08 337.33,474.31 C338.65,477.54 340.01,480.76 341.41,483.96 C342.82,487.17 344.26,490.36 345.75,493.53 C347.24,496.71 348.78,499.87 350.37,503.01 C351.96,506.15 353.60,509.28 355.29,512.39 C356.99,515.50 358.73,518.60 360.55,521.66 C362.36,524.72 364.23,527.78 366.18,530.75 C368.13,533.72 370.15,536.66 372.26,539.48 C374.38,542.31 376.57,545.08 378.87,547.70 C381.17,550.32 383.55,552.85 386.07,555.22 C388.58,557.58 391.19,559.83 393.93,561.87 C396.68,563.92 399.53,565.82 402.54,567.49 C405.54,569.16 408.69,570.67 411.96,571.90 C415.22,573.12 418.68,574.18 422.12,574.82 C425.55,575.46 429.13,575.86 432.59,575.75 C436.06,575.63 439.55,575.04 442.91,574.12 C446.27,573.19 449.55,571.67 452.75,570.21 C455.96,568.74 459.07,567.07 462.12,565.32 C465.17,563.58 468.14,561.69 471.05,559.74 C473.95,557.79 476.79,555.72 479.56,553.60 C482.34,551.48 485.05,549.27 487.71,547.01 C490.37,544.75 492.96,542.41 495.52,540.02 C498.07,537.64 500.57,535.19 503.03,532.70 C505.49,530.22 507.90,527.67 510.28,525.10 C512.66,522.53 514.99,519.91 517.30,517.27 C519.61,514.64 521.89,511.96 524.14,509.28 C526.39,506.59 528.62,503.88 530.83,501.17 C533.04,498.46 536.31,494.36 537.40,493.00" fill="none" stroke="#c00000" stroke-width="4.4" stroke-linejoin="round"/>
<polygon points="181.9,48.5 203.8,50.3 194.1,66.3" fill="#c00000"/>
<polygon points="548.6,476.7 529.2,487.7 545.8,498.4" fill="#c00000"/>

<!-- formulas -->
<text x="360.40" y="194.00" textLength="10.88" lengthAdjust="spacingAndGlyphs" style="font-family:&quot;Liberation Sans&quot;,sans-serif;font-size:23.50px;" stroke="#000" stroke-width="0.06" >P</text>
<text x="371.40" y="200.80" textLength="23.83" lengthAdjust="spacingAndGlyphs" style="font-family:&quot;Liberation Sans&quot;,sans-serif;font-size:16.30px;" stroke="#000" stroke-width="0.00" >crit</text>
<path d="M403.20,184.20 H417.10 M403.20,189.50 H417.10" stroke="#000" stroke-width="1.50" fill="none"/>
<path d="M422.20,188.30 H495.90" stroke="#000" stroke-width="1.40" fill="none"/>
<text x="427.50" y="177.60" textLength="9.88" lengthAdjust="spacingAndGlyphs" style="font-family:&quot;Liberation Sans&quot;,sans-serif;font-size:23.50px;" stroke="#000" stroke-width="0.06" >E</text>
<circle cx="444.10" cy="170.30" r="1.20" fill="#000"/>
<rect x="450.70" y="161.60" width="2.40" height="16.00" fill="#000"/>
<circle cx="458.80" cy="170.30" r="1.20" fill="#000"/>
<text x="465.40" y="177.60" textLength="12.62" lengthAdjust="spacingAndGlyphs" style="font-family:&quot;Liberation Serif&quot;,serif;font-size:25.00px;" stroke="#000" stroke-width="0.30" >π</text>
<text x="479.50" y="166.70" textLength="7.77" lengthAdjust="spacingAndGlyphs" style="font-family:&quot;Liberation Sans&quot;,sans-serif;font-size:14.50px;" stroke="#000" stroke-width="0.00" >2</text>
<text x="423.79" y="214.50" textLength="10.45" lengthAdjust="spacingAndGlyphs" style="font-family:&quot;Liberation Serif&quot;,serif;font-size:25.00px;" stroke="#000" stroke-width="0.30" >γ</text>
<text x="435.90" y="222.50" textLength="13.08" lengthAdjust="spacingAndGlyphs" style="font-family:&quot;Liberation Sans&quot;,sans-serif;font-size:16.90px;" stroke="#000" stroke-width="0.00" >M</text>
<circle cx="456.70" cy="209.20" r="1.20" fill="#000"/>
<rect x="463.80" y="197.40" width="2.30" height="17.10" fill="#000"/>
<text x="467.50" y="222.50" textLength="13.99" lengthAdjust="spacingAndGlyphs" style="font-family:&quot;Liberation Sans&quot;,sans-serif;font-size:16.30px;" stroke="#000" stroke-width="0.00" >ef</text>
<text x="484.70" y="206.50" textLength="7.96" lengthAdjust="spacingAndGlyphs" style="font-family:&quot;Liberation Sans&quot;,sans-serif;font-size:14.50px;" stroke="#000" stroke-width="0.00" >2</text>
<text x="361.00" y="276.80" textLength="10.48" lengthAdjust="spacingAndGlyphs" style="font-family:&quot;Liberation Sans&quot;,sans-serif;font-size:23.50px;" stroke="#000" stroke-width="0.06" >P</text>
<text x="371.60" y="283.00" textLength="23.73" lengthAdjust="spacingAndGlyphs" style="font-family:&quot;Liberation Sans&quot;,sans-serif;font-size:16.30px;" stroke="#000" stroke-width="0.00" >crit</text>
<path d="M402.80,266.60 H417.10 M402.80,272.20 H417.10" stroke="#000" stroke-width="1.50" fill="none"/>
<path d="M422.40,271.50 H594.50" stroke="#000" stroke-width="1.40" fill="none"/>
<text x="424.20" y="260.50" textLength="69.18" lengthAdjust="spacingAndGlyphs" style="font-family:&quot;Liberation Sans&quot;,sans-serif;font-size:23.50px;" stroke="#000" stroke-width="0.06" >826,16</text>
<text x="502.10" y="260.50" textLength="46.30" lengthAdjust="spacingAndGlyphs" style="font-family:&quot;Liberation Sans&quot;,sans-serif;font-size:23.50px;" stroke="#000" stroke-width="0.06" >kNm</text>
<text x="549.70" y="251.30" textLength="7.37" lengthAdjust="spacingAndGlyphs" style="font-family:&quot;Liberation Sans&quot;,sans-serif;font-size:14.50px;" stroke="#000" stroke-width="0.00" >2</text>
<circle cx="562.90" cy="254.30" r="1.20" fill="#000"/>
<text x="569.50" y="260.50" textLength="11.82" lengthAdjust="spacingAndGlyphs" style="font-family:&quot;Liberation Serif&quot;,serif;font-size:25.00px;" stroke="#000" stroke-width="0.30" >π</text>
<text x="582.60" y="249.20" textLength="8.46" lengthAdjust="spacingAndGlyphs" style="font-family:&quot;Liberation Sans&quot;,sans-serif;font-size:14.50px;" stroke="#000" stroke-width="0.00" >2</text>
<text x="444.20" y="299.20" textLength="25.48" lengthAdjust="spacingAndGlyphs" style="font-family:&quot;Liberation Sans&quot;,sans-serif;font-size:23.50px;" stroke="#000" stroke-width="0.06" >1,3</text>
<circle cx="476.30" cy="292.60" r="1.20" fill="#000"/>
<text x="482.90" y="299.20" textLength="40.04" lengthAdjust="spacingAndGlyphs" style="font-family:&quot;Liberation Sans&quot;,sans-serif;font-size:23.50px;" stroke="#000" stroke-width="0.06" >3,17</text>
<text x="524.20" y="288.20" textLength="8.16" lengthAdjust="spacingAndGlyphs" style="font-family:&quot;Liberation Sans&quot;,sans-serif;font-size:14.50px;" stroke="#000" stroke-width="0.00" >2</text>
<text x="543.70" y="299.20" textLength="19.18" lengthAdjust="spacingAndGlyphs" style="font-family:&quot;Liberation Sans&quot;,sans-serif;font-size:23.50px;" stroke="#000" stroke-width="0.06" >m</text>
<text x="564.20" y="287.40" textLength="7.86" lengthAdjust="spacingAndGlyphs" style="font-family:&quot;Liberation Sans&quot;,sans-serif;font-size:14.50px;" stroke="#000" stroke-width="0.00" >2</text>
<path d="M601.00,266.60 H615.50 M601.00,272.20 H615.50" stroke="#000" stroke-width="1.50" fill="none"/>
<text x="620.00" y="276.50" textLength="69.18" lengthAdjust="spacingAndGlyphs" style="font-family:&quot;Liberation Sans&quot;,sans-serif;font-size:23.50px;" stroke="#000" stroke-width="0.06" >624,17</text>
<text x="698.40" y="276.50" textLength="25.82" lengthAdjust="spacingAndGlyphs" style="font-family:&quot;Liberation Sans&quot;,sans-serif;font-size:23.50px;" stroke="#000" stroke-width="0.06" >kN</text>
<text x="361.70" y="391.00" textLength="12.61" lengthAdjust="spacingAndGlyphs" style="font-family:&quot;Liberation Serif&quot;,serif;font-size:26.80px;" stroke="#000" stroke-width="0.30" >η</text>
<path d="M380.30,381.80 H394.00 M380.30,387.10 H394.00" stroke="#000" stroke-width="1.50" fill="none"/>
<path d="M399.20,385.20 H437.60" stroke="#000" stroke-width="1.40" fill="none"/>
<text x="400.80" y="374.70" textLength="10.18" lengthAdjust="spacingAndGlyphs" style="font-family:&quot;Liberation Sans&quot;,sans-serif;font-size:23.50px;" stroke="#000" stroke-width="0.06" >P</text>
<text x="411.20" y="380.60" textLength="23.03" lengthAdjust="spacingAndGlyphs" style="font-family:&quot;Liberation Sans&quot;,sans-serif;font-size:16.30px;" stroke="#000" stroke-width="0.00" >crit</text>
<text x="405.80" y="410.30" textLength="13.08" lengthAdjust="spacingAndGlyphs" style="font-family:&quot;Liberation Sans&quot;,sans-serif;font-size:23.50px;" stroke="#000" stroke-width="0.06" >N</text>
<text x="421.00" y="416.60" textLength="8.47" lengthAdjust="spacingAndGlyphs" style="font-family:&quot;Liberation Sans&quot;,sans-serif;font-size:16.30px;" stroke="#000" stroke-width="0.00" >d</text>
<text x="361.60" y="465.30" textLength="12.91" lengthAdjust="spacingAndGlyphs" style="font-family:&quot;Liberation Serif&quot;,serif;font-size:26.80px;" stroke="#000" stroke-width="0.30" >η</text>
<path d="M380.30,456.60 H393.90 M380.30,461.80 H393.90" stroke="#000" stroke-width="1.50" fill="none"/>
<path d="M398.80,458.80 H504.90" stroke="#000" stroke-width="1.40" fill="none"/>
<text x="400.90" y="448.30" textLength="68.78" lengthAdjust="spacingAndGlyphs" style="font-family:&quot;Liberation Sans&quot;,sans-serif;font-size:23.50px;" stroke="#000" stroke-width="0.06" >624,17</text>
<text x="479.20" y="448.30" textLength="25.32" lengthAdjust="spacingAndGlyphs" style="font-family:&quot;Liberation Sans&quot;,sans-serif;font-size:23.50px;" stroke="#000" stroke-width="0.06" >kN</text>
<text x="400.90" y="485.10" textLength="68.78" lengthAdjust="spacingAndGlyphs" style="font-family:&quot;Liberation Sans&quot;,sans-serif;font-size:23.50px;" stroke="#000" stroke-width="0.06" >412,16</text>
<text x="479.20" y="485.10" textLength="25.32" lengthAdjust="spacingAndGlyphs" style="font-family:&quot;Liberation Sans&quot;,sans-serif;font-size:23.50px;" stroke="#000" stroke-width="0.06" >kN</text>
<path d="M510.90,456.60 H524.80 M510.90,461.80 H524.80" stroke="#000" stroke-width="1.50" fill="none"/>
<text x="529.50" y="465.10" textLength="38.93" lengthAdjust="spacingAndGlyphs" style="font-family:&quot;Liberation Sans&quot;,sans-serif;font-size:23.50px;" stroke="#000" stroke-width="0.06" >1,52</text>
<text x="574.10" y="465.10" textLength="13.90" lengthAdjust="spacingAndGlyphs" style="font-family:&quot;Liberation Sans&quot;,sans-serif;font-size:23.50px;" stroke="#000" stroke-width="0.06" >≥</text>
<text x="592.60" y="465.10" textLength="40.54" lengthAdjust="spacingAndGlyphs" style="font-family:&quot;Liberation Sans&quot;,sans-serif;font-size:23.50px;" stroke="#000" stroke-width="0.06" >1,00</text>
<text x="6.00" y="15.90" textLength="120.34" lengthAdjust="spacingAndGlyphs" style="font-family:&quot;Liberation Sans&quot;,sans-serif;font-size:16.00px;font-weight:bold;" stroke="#000" stroke-width="0.00" >Eigenform - u [-]</text>
<text x="6.00" y="34.50" textLength="225.31" lengthAdjust="spacingAndGlyphs" style="font-family:&quot;Liberation Sans&quot;,sans-serif;font-size:16.00px;font-weight:bold;" stroke="#000" stroke-width="0.00" >RF-STABIL FA1 - 1,0m unaxial</text>
<text x="6.00" y="53.20" textLength="115.55" lengthAdjust="spacingAndGlyphs" style="font-family:&quot;Liberation Sans&quot;,sans-serif;font-size:16.00px;font-weight:bold;" stroke="#000" stroke-width="0.00" >Eigenform Nr. 1</text>
<text x="133.20" y="53.20" textLength="4.42" lengthAdjust="spacingAndGlyphs" style="font-family:&quot;Liberation Sans&quot;,sans-serif;font-size:16.00px;font-weight:bold;" stroke="#000" stroke-width="0.00" >-</text>
<text x="146.00" y="53.20" textLength="28.84" lengthAdjust="spacingAndGlyphs" style="font-family:&quot;Liberation Sans&quot;,sans-serif;font-size:16.00px;font-weight:bold;" stroke="#000" stroke-width="0.00" >1.52</text>
</svg>
</body>
</html>
